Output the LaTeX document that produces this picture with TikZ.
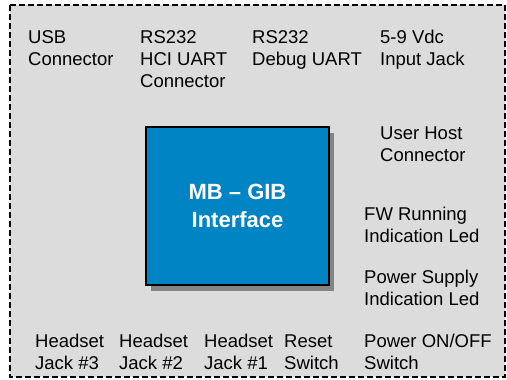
\documentclass[tikz,border=0pt]{standalone}
\usepackage{fontspec}
\setmainfont{Liberation Sans}
\usetikzlibrary{positioning}

\definecolor{boardgray}{HTML}{DCDCDC}
\definecolor{gibblue}{HTML}{0084C4}
\definecolor{shadowgray}{HTML}{848484}

\begin{document}
\begin{tikzpicture}[x=1pt,y=-1pt,
thin,part node/.style = {anchor=base west, align=left, inner sep=0pt,
  font=\fontsize{18.5}{22}\selectfont},
gib node/.style = {draw=black, line width=1.2pt, fill=gibblue, inner sep=0pt,
  minimum width=183pt, minimum height=158pt, text=white,
  font=\bfseries\fontsize{22}{28}\selectfont, align=center}]

\useasboundingbox (0,0) rectangle (507,380);
\draw[fill=boardgray, line width=1.3pt, dash pattern=on 6pt off 3pt]
  (10,5) rectangle (505,377);

% shadow and block
\fill[shadowgray] (151,133) rectangle (334,291);
\node[gib node] (gib) at (237.5,206) {MB -- GIB\\Interface};

% top row (base = last line)
\node[part node] (usb) at (28,65) {USB\\Connector};
\node[part node] (hci) at (140,87) {RS232\\HCI UART\\Connector};
\node[part node] (dbg) at (252,65) {RS232\\Debug UART};
\node[part node] (jack) at (380,65) {5-9 Vdc\\Input Jack};

% right column
\node[part node] (host) at (380,161) {User Host\\Connector};
\node[part node] (fw) at (364,242) {FW Running\\Indication Led};
\node[part node] (psu) at (364,305) {Power Supply\\Indication Led};

% bottom row
\node[part node] (hs3) at (35,369) {Headset\\Jack \#3};
\node[part node] (hs2) at (119,369) {Headset\\Jack \#2};
\node[part node] (hs1) at (204,369) {Headset\\Jack \#1};
\node[part node] (rst) at (284,369) {Reset\\Switch};
\node[part node] (pwr) at (364,369) {Power ON/OFF\\Switch};
\end{tikzpicture}
\end{document}
